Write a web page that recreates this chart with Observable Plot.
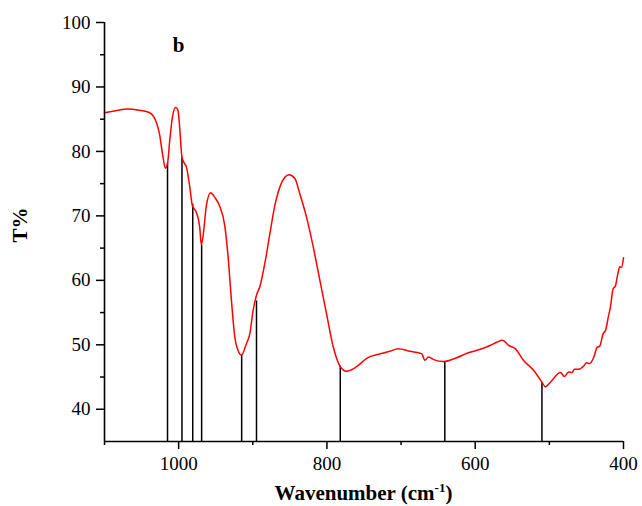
<!DOCTYPE html>
<html>
<head>
<meta charset="utf-8">
<script src="https://cdn.jsdelivr.net/npm/d3@7"></script>
<script src="https://cdn.jsdelivr.net/npm/@observablehq/plot@0.6"></script>
<style>
  html, body { margin: 0; padding: 0; background: #fff; }
  svg { display: block; }
</style>
</head>
<body>
<div id="chart"></div>
<script>
// Spectrum (wavenumber in cm-1, transmittance in %)
const wavenumber = [1100, 1085, 1070, 1053, 1039, 1035, 1030, 1026, 1021, 1018, 1015, 1012, 1008, 1004, 1001, 999, 995.5, 992, 989.6, 985, 981.5, 976, 971.6, 969.4, 967, 962.6, 956.8, 951.4, 944.6, 937.8, 933.4, 928.8, 924.3, 919.9, 915.3, 908.5, 904, 899.6, 895, 890.5, 883.8, 877, 870.3, 863.5, 856.8, 851, 843.2, 836.5, 827.5, 818.5, 809.5, 800.5, 791.5, 782.4, 773.4, 760, 746.4, 728, 715, 703.6, 688, 672, 668, 663, 656, 643, 625, 611, 593, 580, 571, 563, 555, 546, 535, 521, 510, 505.4, 498.6, 485, 479.7, 473.9, 469.4, 466.2, 460.4, 453.6, 450, 445.5, 440, 435.6, 432, 427.5, 424.3, 420, 417.6, 414, 411, 407.7, 405, 402.7, 400];
const transmittance = [86.0, 86.3, 86.6, 86.4, 86.0, 85.6, 84.5, 82.8, 79.1, 77.4, 78.1, 81.7, 85.6, 86.8, 86.4, 84.3, 79.1, 78.1, 77.6, 74.5, 71.6, 70.5, 68.3, 65.5, 66.9, 71.6, 73.6, 72.9, 71.5, 68.5, 63.8, 56.9, 51.2, 49.1, 48.4, 50.2, 51.7, 55.3, 57.7, 59.0, 62.6, 67.2, 71.6, 74.5, 76.0, 76.4, 75.8, 73.4, 69.8, 65.2, 60.0, 54.8, 49.7, 46.7, 45.9, 46.6, 47.9, 48.6, 49.0, 49.4, 49.0, 48.6, 47.6, 48.1, 47.7, 47.4, 48.0, 48.7, 49.3, 49.9, 50.4, 50.7, 49.9, 49.4, 47.6, 46.0, 44.2, 43.5, 44.2, 45.7, 45.1, 45.8, 45.7, 46.2, 46.2, 46.7, 47.2, 47.1, 48.1, 49.6, 49.8, 51.7, 52.2, 54.6, 55.9, 58.7, 59.1, 61.0, 62.1, 62.0, 63.5];

// Marked bands (drop lines)
const peakWavenumber = [1015, 995.5, 981, 969, 915, 895, 782, 641, 510];
const peakT = [78.2, 79.0, 71.8, 65.5, 48.4, 56.8, 46.7, 47.4, 44.1];

// Axis ticks
const xMajorTicks = [1000, 800, 600, 400];
const xMinorTicks = [1100, 900, 700, 500];
const yMajorTicks = [40, 50, 60, 70, 80, 90, 100];
const yMinorTicks = [45, 55, 65, 75, 85, 95];

// Panel label
const panelLabel = [{wn: 1000, t: 96.4, text: "b"}];

const spectrum = wavenumber.map((w, i) => ({wn: w, t: transmittance[i]}));
const peaks = peakWavenumber.map((w, i) => ({wn: w, t: peakT[i]}));

const W = 642, H = 506, ML = 104, MR = 19, MT = 22, MB = 65;
const font = "'Liberation Serif', 'Times New Roman', serif";

const chart = Plot.plot({
  width: W,
  height: H,
  marginLeft: ML,
  marginRight: MR,
  marginTop: MT,
  marginBottom: MB,
  style: {fontFamily: font, background: "#fff", color: "#000", overflow: "visible"},
  x: {domain: [1100, 400]},
  y: {domain: [35, 100]},
  marks: [
    Plot.ruleX(peaks, {x: "wn", y1: 35, y2: "t", stroke: "#000", strokeWidth: 1.5}),
    Plot.line(spectrum, {x: "wn", y: "t", stroke: "#ff0000", strokeWidth: 1.5, curve: "monotone-x"}),
    Plot.ruleX([1100], {y1: 35, y2: 100, stroke: "#000", strokeWidth: 1.6}),
    Plot.ruleY([35], {x1: 1100, x2: 400, stroke: "#000", strokeWidth: 1.6}),
    Plot.axisX(xMajorTicks, {tickSize: 8, tickPadding: 7, fontSize: 19, tickFormat: d => String(d), strokeWidth: 1.5, label: null}),
    Plot.axisX(xMinorTicks, {tickSize: 4, tickFormat: () => "", strokeWidth: 1.5, label: null}),
    Plot.axisY(yMajorTicks, {tickSize: 8, tickPadding: 6, fontSize: 19, tickFormat: d => String(d), strokeWidth: 1.5, label: null}),
    Plot.axisY(yMinorTicks, {tickSize: 4, tickFormat: () => "", strokeWidth: 1.5, label: null}),
    Plot.text(panelLabel, {x: "wn", y: "t", text: "text", fontSize: 21, fontWeight: "bold", fill: "#000"})
  ]
});

const svg = d3.select(chart);
// X axis title with superscript
const xt = svg.append("text")
  .attr("x", (ML + W - MR) / 2)
  .attr("y", 500)
  .attr("text-anchor", "middle")
  .attr("font-family", font)
  .attr("font-weight", "bold")
  .attr("font-size", 21)
  .attr("fill", "#000");
xt.append("tspan").text("Wavenumber (cm");
xt.append("tspan").attr("font-size", 13).attr("dy", -8).text("-1");
xt.append("tspan").attr("dy", 8).text(")");

// Y axis title
svg.append("text")
  .attr("transform", "translate(27,225) rotate(-90)")
  .attr("text-anchor", "middle")
  .attr("font-family", font)
  .attr("font-weight", "bold")
  .attr("font-size", 21)
  .attr("fill", "#000")
  .text("T%");

document.getElementById("chart").appendChild(chart);
</script>
</body>
</html>
